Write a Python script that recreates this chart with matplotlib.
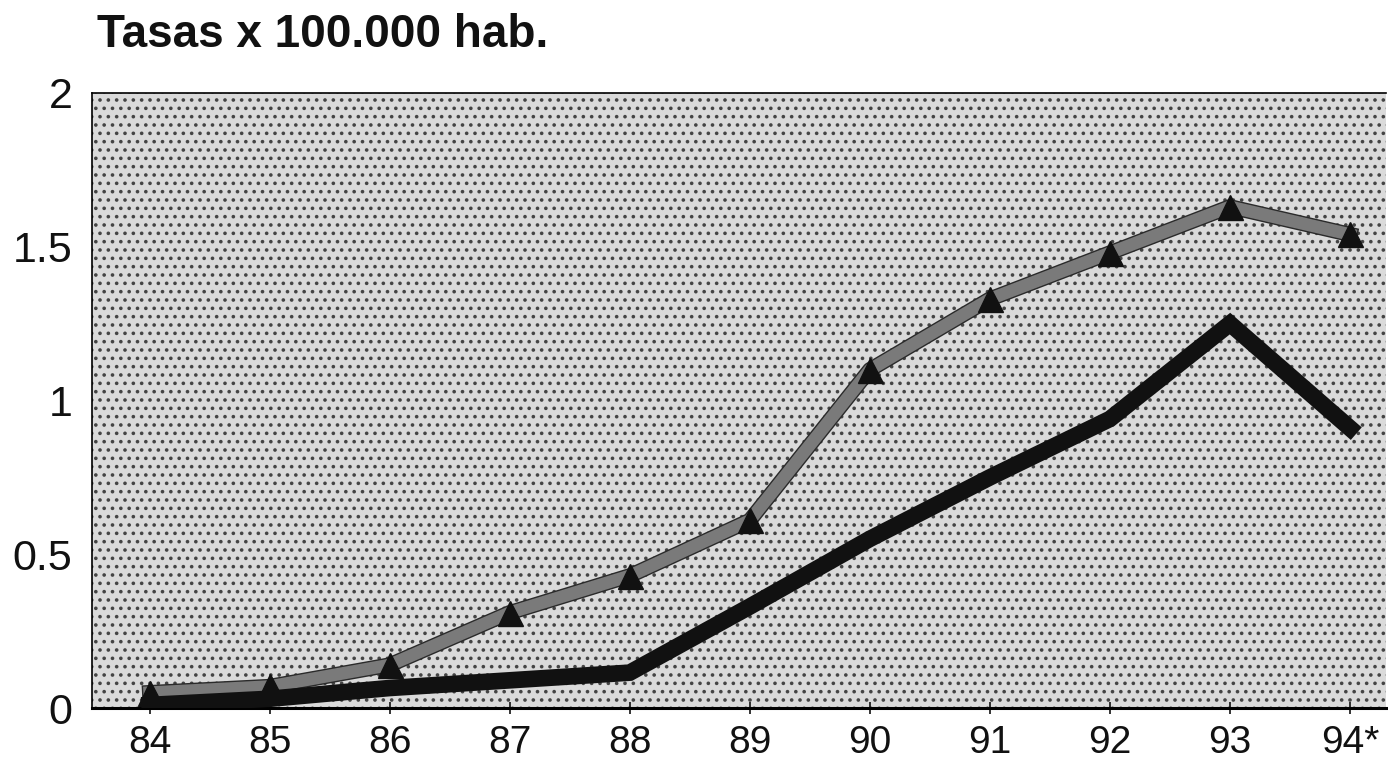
import matplotlib.pyplot as plt
from matplotlib.patches import Rectangle
import matplotlib.patheffects as pe

plt.rcParams['font.family'] = ['Liberation Sans', 'DejaVu Sans']
plt.rcParams['hatch.linewidth'] = 1.4

# data
years = [84, 85, 86, 87, 88, 89, 90, 91, 92, 93, 94]
year_labels = ['84', '85', '86', '87', '88', '89', '90', '91', '92', '93', '94*']
serie_gris = [0.05, 0.07, 0.14, 0.31, 0.43, 0.61, 1.10, 1.33, 1.48, 1.63, 1.54]
serie_negra = [0.01, 0.03, 0.065, 0.09, 0.115, 0.33, 0.55, 0.75, 0.94, 1.25, 0.91]

fig = plt.figure(figsize=(13.88, 7.63), dpi=100)
ax = fig.add_axes([92 / 1388, 1 - 708 / 763, (1386 - 92) / 1388, (708 - 93) / 763])

# stippled background
ax.set_facecolor('#dadada')
ax.add_patch(Rectangle((0, 0), 1, 1, transform=ax.transAxes, facecolor='none',
                       edgecolor='#444444', hatch='..', linewidth=0, zorder=0))

ax.plot(years, serie_gris, color='#7a7a7a', linewidth=9, solid_joinstyle='round',
        path_effects=[pe.Stroke(linewidth=11, foreground='#2a2a2a'), pe.Normal()],
        zorder=2)
ax.plot(years, serie_gris, linestyle='none', marker='^', markersize=18,
        color='#111111', zorder=3)
ax.plot(years, serie_negra, color='#111111', linewidth=12, solid_joinstyle='miter',
        zorder=4)

ax.set_xlim(83.52, 94.3)
ax.set_ylim(0, 2)
ax.set_xticks(years)
ax.set_xticklabels(year_labels)
ax.set_yticks([0, 0.5, 1, 1.5, 2])
ax.set_yticklabels(['0', '0.5', '1', '1.5', '2'])
ax.tick_params(axis='x', labelsize=28, direction='inout', length=8, width=1.2, pad=8,
               colors='#111111')
ax.tick_params(axis='y', labelsize=31, length=0, pad=14, colors='#111111')

for side in ['top', 'left']:
    ax.spines[side].set_linewidth(1.2)
ax.spines['bottom'].set_linewidth(2.2)
ax.spines['right'].set_visible(False)

fig.text(97 / 1388, 1 - 35 / 763, 'Tasas x 100.000 hab.', fontsize=33,
         fontweight='bold', va='center', ha='left', color='#111111')

fig.savefig('out.png', dpi=100)
